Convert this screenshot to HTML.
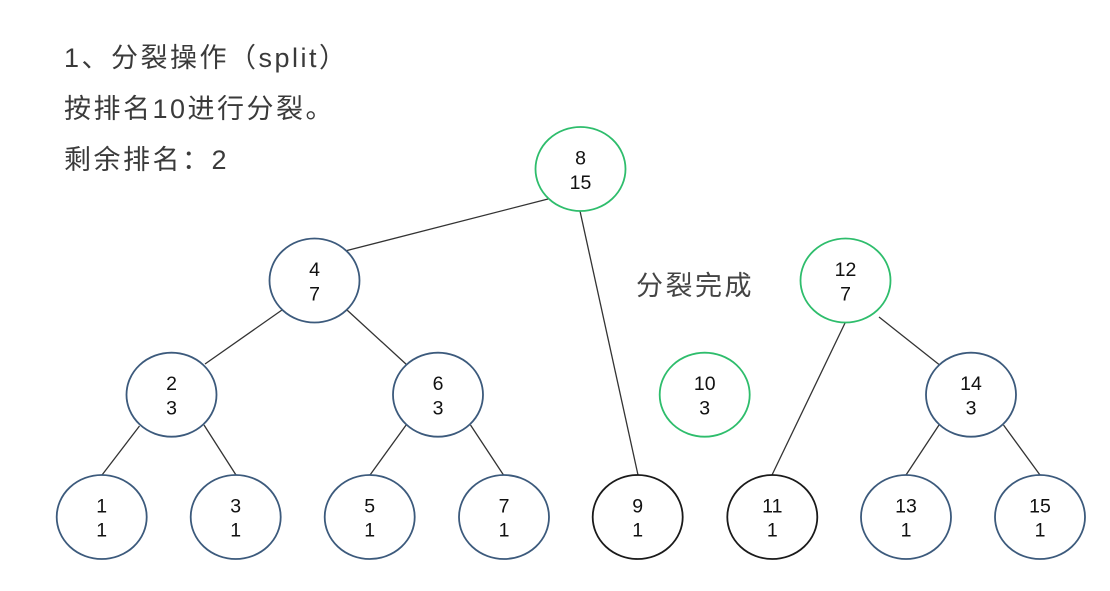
<!DOCTYPE html>
<html><head><meta charset="utf-8">
<style>
html,body{margin:0;padding:0;background:#fff;}
body{width:1110px;height:591px;overflow:hidden;}
svg{display:block;}
.hd{font-family:"Liberation Sans","Noto Sans CJK SC",sans-serif;font-size:27px;fill:#3a3a3a;letter-spacing:2.5px;}
.nt{font-family:"Liberation Sans",Arial,sans-serif;font-size:19.5px;fill:#111;text-anchor:middle;}
.b{fill:#fff;stroke:#3c5a7c;stroke-width:1.8;}
.g{fill:#fff;stroke:#2ebd6c;stroke-width:1.8;}
.k{fill:#fff;stroke:#1a1a1a;stroke-width:1.8;}
.e{stroke:#333;stroke-width:1.3;fill:none;}
</style></head>
<body>
<svg width="1110" height="591" viewBox="0 0 1110 591" xmlns="http://www.w3.org/2000/svg">
<text class="hd" x="64" y="67">1、分裂操作（split）</text>
<text class="hd" x="64" y="118">按排名10进行分裂。</text>
<text class="hd" x="64" y="169">剩余排名：2</text>
<text class="hd" x="636" y="295" style="fill:#444">分裂完成</text>

<!-- edges -->
<line class="e" x1="548" y1="199" x2="347" y2="250.5"/>
<line class="e" x1="580" y1="211" x2="638" y2="475"/>
<line class="e" x1="282" y1="310" x2="205" y2="364"/>
<line class="e" x1="347" y1="310" x2="407" y2="365"/>
<line class="e" x1="139.5" y1="426" x2="102" y2="475"/>
<line class="e" x1="204" y1="425" x2="236" y2="475"/>
<line class="e" x1="406.5" y1="424.5" x2="370" y2="475"/>
<line class="e" x1="470.5" y1="425" x2="503.5" y2="475"/>
<line class="e" x1="845.5" y1="322" x2="772" y2="475"/>
<line class="e" x1="879" y1="317" x2="939" y2="364.5"/>
<line class="e" x1="939" y1="425" x2="906" y2="475"/>
<line class="e" x1="1003.5" y1="425" x2="1040" y2="475"/>

<!-- nodes -->
<ellipse class="g" cx="580.5" cy="169" rx="45" ry="42"/>
<text class="nt" x="580.5" y="164.5">8</text><text class="nt" x="580.5" y="189">15</text>

<ellipse class="b" cx="314.5" cy="280.5" rx="45" ry="42"/>
<text class="nt" x="314.5" y="276">4</text><text class="nt" x="314.5" y="300.5">7</text>

<ellipse class="g" cx="845.5" cy="280.5" rx="45" ry="42"/>
<text class="nt" x="845.5" y="276">12</text><text class="nt" x="845.5" y="300.5">7</text>

<ellipse class="b" cx="171.5" cy="394.7" rx="45" ry="42"/>
<text class="nt" x="171.5" y="390">2</text><text class="nt" x="171.5" y="414.5">3</text>

<ellipse class="b" cx="438" cy="394.7" rx="45" ry="42"/>
<text class="nt" x="438" y="390">6</text><text class="nt" x="438" y="414.5">3</text>

<ellipse class="g" cx="704.7" cy="394.7" rx="45" ry="42"/>
<text class="nt" x="704.7" y="390">10</text><text class="nt" x="704.7" y="414.5">3</text>

<ellipse class="b" cx="971" cy="394.7" rx="45" ry="42"/>
<text class="nt" x="971" y="390">14</text><text class="nt" x="971" y="414.5">3</text>

<ellipse class="b" cx="101.7" cy="517" rx="45" ry="42"/>
<text class="nt" x="101.7" y="512.3">1</text><text class="nt" x="101.7" y="536.7">1</text>

<ellipse class="b" cx="235.7" cy="517" rx="45" ry="42"/>
<text class="nt" x="235.7" y="512.3">3</text><text class="nt" x="235.7" y="536.7">1</text>

<ellipse class="b" cx="369.7" cy="517" rx="45" ry="42"/>
<text class="nt" x="369.7" y="512.3">5</text><text class="nt" x="369.7" y="536.7">1</text>

<ellipse class="b" cx="504" cy="517" rx="45" ry="42"/>
<text class="nt" x="504" y="512.3">7</text><text class="nt" x="504" y="536.7">1</text>

<ellipse class="k" cx="637.7" cy="517" rx="45" ry="42"/>
<text class="nt" x="637.7" y="512.3">9</text><text class="nt" x="637.7" y="536.7">1</text>

<ellipse class="k" cx="772.3" cy="517" rx="45" ry="42"/>
<text class="nt" x="772.3" y="512.3">11</text><text class="nt" x="772.3" y="536.7">1</text>

<ellipse class="b" cx="906" cy="517" rx="45" ry="42"/>
<text class="nt" x="906" y="512.3">13</text><text class="nt" x="906" y="536.7">1</text>

<ellipse class="b" cx="1040" cy="517" rx="45" ry="42"/>
<text class="nt" x="1040" y="512.3">15</text><text class="nt" x="1040" y="536.7">1</text>
</svg>
</body></html>
